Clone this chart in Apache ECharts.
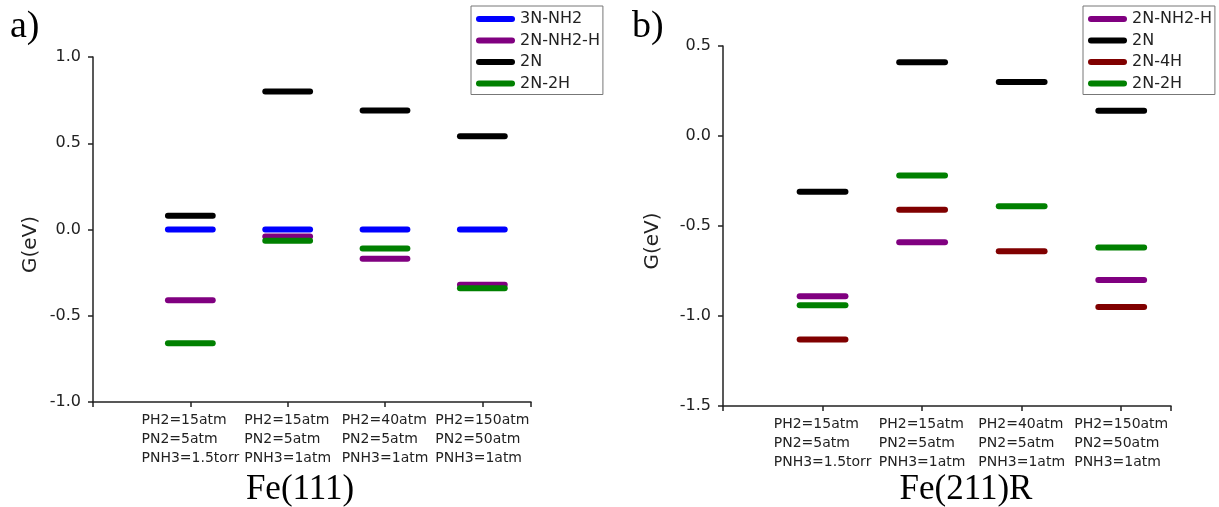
<!DOCTYPE html>
<html>
<head>
<meta charset="utf-8">
<script src="https://cdn.jsdelivr.net/npm/echarts@6/dist/echarts.min.js"></script>
<style>
  html, body { margin: 0; padding: 0; background: #fff; }
  #chart { width: 1219px; height: 507px; }
</style>
</head>
<body>
<div id="chart"></div>
<script>
// conditions (x categories, same for both panels)
const conditions = [
  'PH2=15atm\nPN2=5atm\nPNH3=1.5torr',
  'PH2=15atm\nPN2=5atm\nPNH3=1atm',
  'PH2=40atm\nPN2=5atm\nPNH3=1atm',
  'PH2=150atm\nPN2=50atm\nPNH3=1atm'
];

// Fe(111), G in eV
const fe111_3N_NH2 = [0, 0, 0, 0];
const fe111_2N_NH2_H = [-0.41, -0.04, -0.17, -0.32];
const fe111_2N = [0.08, 0.80, 0.69, 0.54];
const fe111_2N_2H = [-0.66, -0.065, -0.11, -0.34];

// Fe(211)R, G in eV
const fe211_2N_NH2_H = [-0.89, -0.59, null, -0.80];
const fe211_2N = [-0.31, 0.41, 0.30, 0.14];
const fe211_2N_4H = [-1.13, -0.41, -0.64, -0.95];
const fe211_2N_2H = [-0.94, -0.22, -0.39, -0.62];

const yTicksLeft = [-1, 1];
const yTicksRight = [-1.5, 0.5];

const SANS = 'DejaVu Sans';
const TXT = '#222';
const HALF = 0.23; // half length of a level, in x units

const chart = echarts.init(document.getElementById('chart'));

function renderLevel(params, api) {
  const v = api.value(1);
  if (v == null || isNaN(v)) return;
  const x = api.value(0);
  const a = api.coord([x - HALF, v]);
  const b = api.coord([x + HALF, v]);
  return {
    type: 'line',
    shape: { x1: a[0], y1: a[1], x2: b[0], y2: b[1] },
    style: { stroke: api.visual('color'), lineWidth: 6, lineCap: 'round' }
  };
}

function levels(name, vals, color, idx) {
  return {
    type: 'custom',
    name: name,
    xAxisIndex: idx,
    yAxisIndex: idx,
    itemStyle: { color: color },
    renderItem: renderLevel,
    data: vals.map((v, i) => [i + 1, v]).filter(d => d[1] != null)
  };
}

const stadium = 'path://M3,0 L36,0 A3,3 0 0 1 36,6 L3,6 A3,3 0 0 1 3,0 Z';

function xAxisFor(idx) {
  return {
    type: 'value',
    gridIndex: idx,
    min: 0,
    max: 4.5,
    splitLine: { show: false },
    axisLine: { onZero: false, lineStyle: { color: TXT, width: 1.5 } },
    axisTick: { length: 5, customValues: [0, 1, 2, 3, 4, 4.5], lineStyle: { color: TXT, width: 1.5 } },
    axisLabel: {
      margin: 9,
      customValues: [1, 2, 3, 4],
      formatter: v => conditions[v - 1].split('\n').map(s => '{l|' + s + '}').join('\n'),
      rich: { l: { fontFamily: SANS, fontSize: 14, lineHeight: 19, color: TXT, align: 'left' } }
    }
  };
}

function yAxisFor(idx, range, gap) {
  return {
    type: 'value',
    gridIndex: idx,
    min: range[0],
    max: range[1],
    interval: 0.5,
    name: 'G(eV)',
    nameLocation: 'middle',
    nameGap: gap,
    nameTextStyle: { fontFamily: SANS, fontSize: 20, color: TXT, padding: [0, 30, 0, 0] },
    splitLine: { show: false },
    axisLine: { show: true, onZero: false, lineStyle: { color: TXT, width: 1.5 } },
    axisTick: { length: 5, lineStyle: { color: TXT, width: 1.5 } },
    axisLabel: {
      margin: 12,
      fontFamily: SANS,
      fontSize: 16,
      color: TXT,
      formatter: v => v.toFixed(1)
    }
  };
}

function legendFor(names, left) {
  return {
    orient: 'vertical',
    left: left,
    top: 6,
    data: names.map(n => ({ name: n, icon: stadium })),
    itemWidth: 39,
    itemHeight: 6,
    itemGap: 5.5,
    padding: [5, 3, 3, 5],
    borderColor: '#777',
    borderWidth: 1,
    backgroundColor: '#fff',
    selectedMode: false,
    textStyle: { fontFamily: SANS, fontSize: 16, lineHeight: 16, color: TXT }
  };
}

const option = {
  backgroundColor: '#fff',
  animation: false,
  grid: [
    { left: 93, top: 57, width: 438, height: 345 },
    { left: 723, top: 46, width: 448, height: 360 }
  ],
  xAxis: [xAxisFor(0), xAxisFor(1)],
  yAxis: [yAxisFor(0, yTicksLeft, 52), yAxisFor(1, yTicksRight, 60)],
  legend: [
    legendFor(['3N-NH2', '2N-NH2-H', '2N', '2N-2H'], 471),
    legendFor(['2N-NH2-H', '2N', '2N-4H', '2N-2H'], 1083)
  ],
  series: [
    levels('3N-NH2', fe111_3N_NH2, '#0000ff', 0),
    levels('2N-NH2-H', fe111_2N_NH2_H, '#800080', 0),
    levels('2N', fe111_2N, '#000000', 0),
    levels('2N-2H', fe111_2N_2H, '#008000', 0),
    levels('2N-NH2-H', fe211_2N_NH2_H, '#800080', 1),
    levels('2N', fe211_2N, '#000000', 1),
    levels('2N-4H', fe211_2N_4H, '#800000', 1),
    levels('2N-2H', fe211_2N_2H, '#008000', 1)
  ],
  graphic: [
    { type: 'text', left: 10, top: 8, style: { text: 'a)', font: '38px "Liberation Serif"', fill: '#000' } },
    { type: 'text', left: 632, top: 8, style: { text: 'b)', font: '38px "Liberation Serif"', fill: '#000' } },
    { type: 'text', x: 300, y: 490, style: { text: 'Fe(111)', font: '35px "Liberation Serif"', fill: '#000', textAlign: 'center', textVerticalAlign: 'middle' } },
    { type: 'text', x: 966, y: 490, style: { text: 'Fe(211)R', font: '35px "Liberation Serif"', fill: '#000', textAlign: 'center', textVerticalAlign: 'middle' } }
  ]
};

chart.setOption(option);
</script>
</body>
</html>
